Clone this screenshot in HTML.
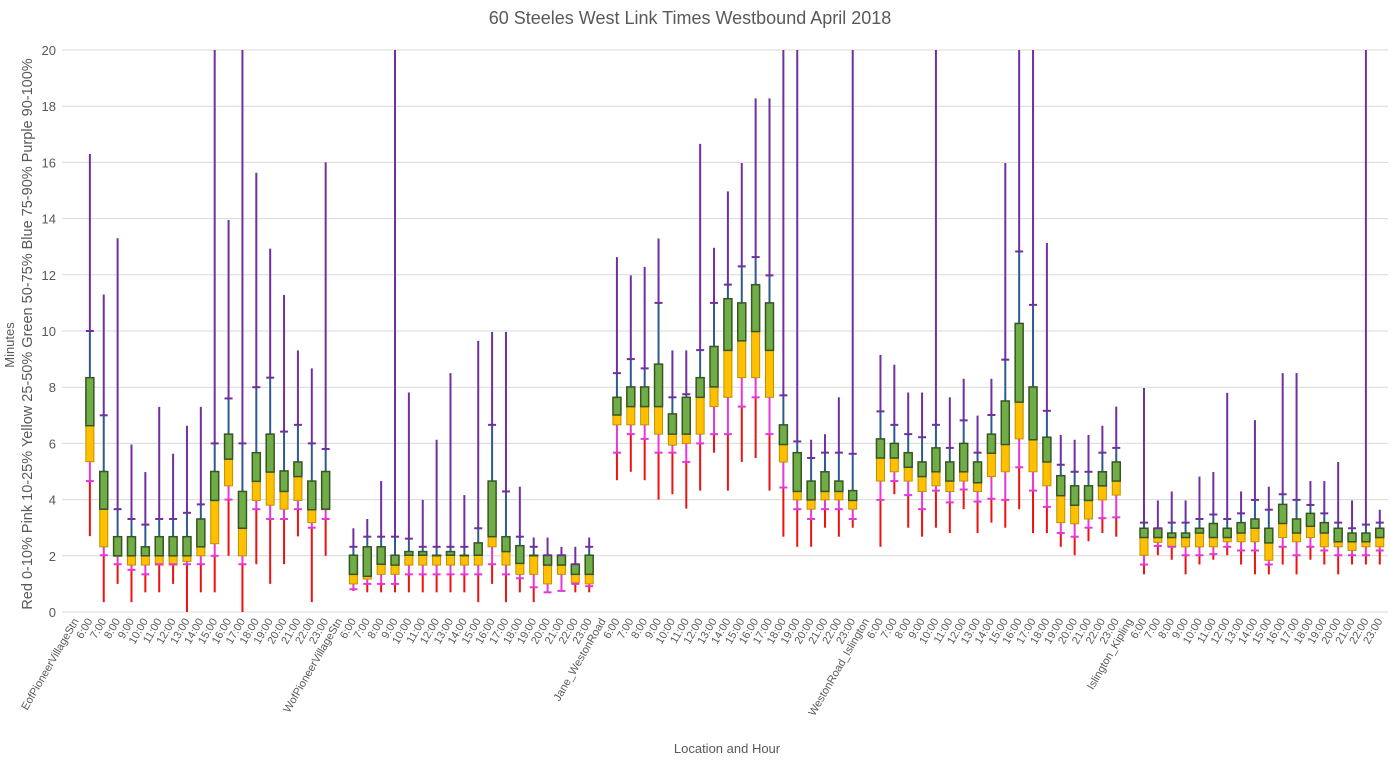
<!DOCTYPE html>
<html><head><meta charset="utf-8"><style>
body{margin:0;background:#fff;}
svg{display:block;font-family:"Liberation Sans",sans-serif;}
</style></head><body>
<svg id="chart" width="1390" height="769">
<text x="690" y="24" text-anchor="middle" font-size="18" fill="#595959">60 Steeles West Link Times Westbound April 2018</text>
<text transform="translate(14,345) rotate(-90)" text-anchor="middle" font-size="13" fill="#595959">Minutes</text>
<text transform="translate(32,334) rotate(-90)" text-anchor="middle" font-size="14.5" fill="#595959">Red 0-10%  Pink 10-25%  Yellow 25-50%  Green 50-75%  Blue 75-90%  Purple 90-100%</text>
<text x="727" y="753" text-anchor="middle" font-size="13" fill="#595959">Location and Hour</text>
<g id="grid"></g><g id="marks"></g><g id="xlabels"></g>
</svg>
<script>
const locations=["EofPioneerVillageStn","WofPioneerVillageStn","Jane_WestonRoad","WestonRoad_Islington","Islington_Kipling"];
const hours=["6:00","7:00","8:00","9:00","10:00","11:00","12:00","13:00","14:00","15:00","16:00","17:00","18:00","19:00","20:00","21:00","22:00","23:00"];
const yTicks=[0,2,4,6,8,10,12,14,16,18,20];
const minV=[
[2.7,0.35,1.0,0.35,0.7,0.7,1.0,0,0.7,0.7,2.0,0,1.7,1.0,1.7,2.69,0.35,2.0],
[0.75,0.7,0.7,0.7,0.7,0.7,0.7,0.7,0.7,0.35,1.0,0.35,0.7,0.35,0.7,0.75,0.7,0.7],
[4.69,4.99,4.69,4.0,4.19,3.68,4.32,5.67,4.32,5.34,5.48,4.32,2.68,2.32,2.32,3.0,2.68,3.0],
[2.32,4.19,3.0,2.68,3.0,2.81,3.66,2.81,3.18,3.0,3.66,2.81,2.81,2.32,2.02,2.52,2.81,2.68],
[1.34,2.02,1.86,1.34,1.69,1.86,2.02,1.69,1.34,1.34,1.69,1.34,1.86,1.69,1.34,1.69,1.69,1.69]];
const p10=[
[4.66,2.02,1.7,1.5,1.34,1.7,1.7,1.7,1.7,2.0,4.0,1.7,3.66,3.31,3.31,3.66,3.0,3.31],
[0.81,1.0,1.0,1.0,1.34,1.34,1.34,1.34,1.34,1.34,1.7,1.34,1.2,0.88,0.7,0.75,1.0,0.92],
[5.67,6.33,6.16,5.67,5.67,5.34,6.0,6.33,6.33,7.31,7.64,6.33,4.43,3.66,3.31,3.66,3.66,3.31],
[3.99,4.66,4.16,3.66,4.32,3.9,4.36,3.93,4.03,3.99,5.15,4.32,3.74,2.81,2.68,3.0,3.34,3.37],
[1.69,2.35,2.32,2.02,2.02,2.06,2.32,2.19,2.19,1.69,2.32,2.02,2.32,2.19,2.02,2.02,2.02,2.19]];
const p25=[
[5.35,2.32,2.0,1.67,1.67,1.67,1.67,1.8,2.0,2.43,4.49,2.0,3.97,3.8,3.66,3.97,3.18,3.66],
[1.0,1.17,1.34,1.34,1.67,1.67,1.67,1.67,1.67,1.67,2.32,1.67,1.34,1.34,1.0,1.34,1.04,1.0],
[6.66,6.66,6.66,6.33,5.94,6.0,6.33,7.31,7.64,8.34,8.34,7.64,5.34,3.99,3.66,3.99,3.99,3.66],
[4.66,4.99,4.66,4.29,4.49,4.29,4.66,4.29,4.82,4.99,6.16,4.99,4.49,3.18,3.14,3.31,3.99,4.16],
[2.02,2.48,2.32,2.32,2.32,2.32,2.5,2.5,2.5,1.84,2.65,2.5,2.65,2.32,2.32,2.19,2.32,2.32]];
const p50=[
[6.63,3.66,2.0,2.0,2.0,2.0,2.0,2.0,2.32,3.97,5.44,2.98,4.65,4.98,4.29,4.82,3.64,3.66],
[1.34,1.27,1.7,1.67,2.02,2.02,2.02,2.02,2.02,2.02,2.68,2.15,1.73,2.02,1.67,1.67,1.34,1.34],
[7.01,7.31,7.31,7.31,6.33,6.33,7.64,8.01,9.31,9.65,9.98,9.31,5.96,4.29,3.99,4.29,4.29,3.97],
[5.48,5.48,5.15,4.82,4.99,4.66,4.99,4.6,5.65,5.96,7.47,6.13,5.34,4.14,3.8,3.97,4.49,4.66],
[2.65,2.65,2.65,2.65,2.81,2.65,2.65,2.81,2.98,2.46,3.15,2.81,3.05,2.81,2.5,2.5,2.5,2.65]];
const p75=[
[8.34,5.0,2.68,2.68,2.32,2.68,2.68,2.68,3.31,5.0,6.33,4.29,5.67,6.33,5.02,5.34,4.66,5.0],
[2.02,2.32,2.32,2.02,2.15,2.15,2.02,2.15,2.02,2.46,4.66,2.68,2.36,2.02,2.02,2.02,1.7,2.02],
[7.64,8.01,8.01,8.82,7.05,7.64,8.34,9.45,11.15,11.0,11.65,11.0,6.66,5.67,4.66,4.99,4.66,4.32],
[6.16,6.0,5.67,5.34,5.84,5.34,6.0,5.34,6.33,7.51,10.27,8.01,6.22,4.85,4.49,4.49,4.99,5.34],
[2.98,2.98,2.81,2.81,2.98,3.15,2.98,3.18,3.31,2.98,3.83,3.31,3.51,3.18,2.98,2.81,2.81,2.98]];
const p90=[
[10.0,7.0,3.66,3.31,3.11,3.31,3.31,3.53,3.83,6.0,7.6,6.0,8.0,8.34,6.42,6.66,6.0,5.8],
[2.32,2.68,2.68,2.68,2.61,2.32,2.32,2.32,2.32,2.98,6.66,4.29,2.68,2.32,2.02,2.02,1.7,2.32],
[8.5,9.0,8.67,11.0,7.64,7.75,9.32,11.0,11.65,12.3,12.63,11.98,7.71,6.07,5.48,5.67,5.67,5.63],
[7.14,6.66,6.33,6.22,6.66,5.84,6.82,5.67,7.01,8.98,12.83,10.93,7.16,5.24,4.99,4.99,5.67,5.84],
[3.18,2.98,3.18,3.18,3.31,3.47,3.31,3.51,3.99,3.64,4.19,3.99,3.81,3.51,3.18,2.98,3.11,3.18]];
const maxV=[
[16.3,11.3,13.3,5.96,4.98,7.3,5.63,6.63,7.3,20,13.95,20,15.63,12.93,11.28,9.31,8.67,16.0],
[2.98,3.31,4.66,20,7.81,3.99,6.13,8.5,4.16,9.65,9.97,9.97,4.46,2.65,2.65,2.32,2.32,2.65],
[12.63,11.98,12.28,13.29,9.31,9.31,16.66,12.96,14.97,15.98,18.28,18.28,20,20,6.13,6.33,7.64,20],
[9.15,8.8,7.81,7.81,20,7.64,8.3,6.99,8.3,15.98,20,20,13.13,6.3,6.13,6.3,6.63,7.31],
[7.97,3.97,4.29,3.97,4.82,4.98,7.8,4.29,6.83,4.46,8.5,8.5,4.66,4.66,5.34,3.97,20,3.64]];

const NS="http://www.w3.org/2000/svg";
const Y0=612,Y1=50,X0=62,X1=1388;
function yS(v){return Y0-(v/20)*(Y0-Y1);}
function xS(i){return 76+i*13.87;}
function mk(tag,attrs,parent){const e=document.createElementNS(NS,tag);for(const k in attrs)e.setAttribute(k,attrs[k]);parent.appendChild(e);return e;}
const grid=document.getElementById('grid'),marks=document.getElementById('marks'),xl=document.getElementById('xlabels');
yTicks.forEach(t=>{
  const l=mk('line',{x1:X0,x2:X1,y1:yS(t),y2:yS(t),stroke:'#d9d9d9','stroke-width':1},grid);
  
  
  const tx=mk('text',{x:56,y:yS(t)+5,'text-anchor':'end','font-size':13,fill:'#595959'},grid);
  tx.textContent=t;
  
  
});
function label(i,txt){
  const x=xS(i)+3,y=621;
  const t=mk('text',{transform:`translate(${x},${y}) rotate(-60)`,'text-anchor':'end','font-size':11,fill:'#595959'},xl);
  t.textContent=txt;
  
  
}
let idx=0;
locations.forEach((loc,g)=>{
  label(idx,loc);idx++;
  hours.forEach((h,k)=>{
    label(idx,h);
    const x=xS(idx);
    const grp=mk('g',{},marks);
    
    
    const seg=(a,b,c)=>mk('line',{x1:x,x2:x,y1:yS(a),y2:yS(b),stroke:c,'stroke-width':2},grp);
    seg(minV[g][k],p10[g][k],'#ee1111');
    seg(p10[g][k],p25[g][k],'#e837d8');
    seg(p75[g][k],p90[g][k],'#2f5a8f');
    seg(p90[g][k],maxV[g][k],'#7030a0');
    const w=8;
    mk('rect',{x:x-w/2,y:yS(p50[g][k]),width:w,height:Math.max(0.5,yS(p25[g][k])-yS(p50[g][k])),fill:'#ffc000',stroke:'#c09000','stroke-width':1},grp);
    mk('rect',{x:x-w/2,y:yS(p75[g][k]),width:w,height:Math.max(0.5,yS(p50[g][k])-yS(p75[g][k])),fill:'#70ad47',stroke:'#375623','stroke-width':1.5},grp);
    mk('line',{x1:x-4,x2:x+4,y1:yS(p10[g][k]),y2:yS(p10[g][k]),stroke:'#e837d8','stroke-width':2},grp);
    mk('line',{x1:x-4,x2:x+4,y1:yS(p90[g][k]),y2:yS(p90[g][k]),stroke:'#7030a0','stroke-width':2},grp);
    idx++;
  });
});
</script>
</body></html>
